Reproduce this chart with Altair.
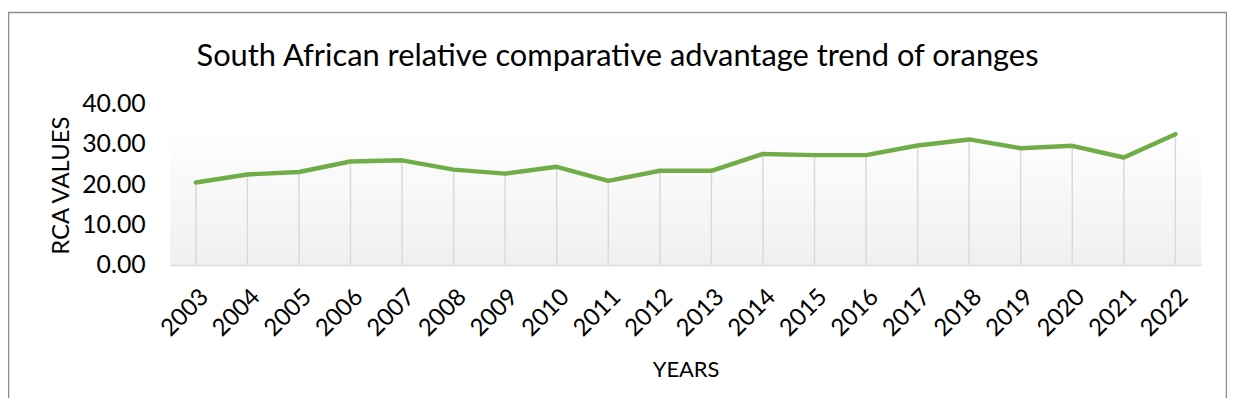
import altair as alt
import pandas as pd

title_text = "South African relative comparative advantage trend of oranges"
years = [str(y) for y in range(2003, 2023)]
rca = [20.4, 22.4, 23.0, 25.6, 25.9, 23.6, 22.6, 24.3, 20.8, 23.3,
       23.3, 27.5, 27.2, 27.2, 29.6, 31.1, 28.9, 29.5, 26.6, 32.4]

df = pd.DataFrame({"year": years, "rca": rca})
one = pd.DataFrame({"t": [title_text]})

W, H = 1037, 162
FONT = "Lato"

xenc = alt.X("year:N", sort=years, scale=alt.Scale(type="point", padding=0.5),
             axis=alt.Axis(title="YEARS", labelAngle=-45, labelFontSize=24, titleFontSize=22,
                           labelFont=FONT, titleFont=FONT, labelColor="#000", titleColor="#000",
                           titleFontWeight="normal", ticks=False, domain=True,
                           domainColor="#d9d9d9", domainWidth=2, labelPadding=20,
                           titleY=106, titleBaseline="middle", grid=False))
yscale = alt.Scale(domain=[0, 40], nice=False)
yenc = alt.Y("rca:Q", scale=yscale,
             axis=alt.Axis(title="RCA VALUES", values=[0, 10, 20, 30, 40], format=".2f",
                           labelFontSize=25, titleFontSize=24, labelFont=FONT, titleFont=FONT,
                           labelColor="#000", titleColor="#000", titleFontWeight="normal",
                           ticks=False, domain=False, grid=False, labelPadding=25,
                           titleX=-109, titleY=82, titleAlign="center", titleBaseline="middle"))

bg = alt.Chart(one).mark_rect(
    color=alt.LinearGradient(gradient="linear", x1=0, y1=0, x2=0, y2=1,
                             stops=[alt.GradientStop(color="#ffffff", offset=0),
                                    alt.GradientStop(color="#f0f0f0", offset=1)])
).encode(x=alt.value(0), x2=alt.value(W), y=alt.datum(34.8, scale=yscale), y2=alt.datum(0))

border = alt.Chart(one).mark_rect(fill=None, stroke="#8c8c8c", strokeWidth=1.5, clip=False).encode(
    x=alt.value(-162.5), x2=alt.value(1062.5), y=alt.value(-91.5), y2=alt.value(330))

title = alt.Chart(one).mark_text(
    font=FONT, fontSize=31, fontWeight="normal", color="#000", align="center", baseline="alphabetic"
).encode(text="t:N", x=alt.value(450), y=alt.value(-38))

drops = alt.Chart(df).mark_rule(color="#d9d9d9", strokeWidth=1.5).encode(
    x=xenc, y=yenc, y2=alt.datum(0))

line = alt.Chart(df).mark_line(color="#70ad47", strokeWidth=4.5, strokeJoin="round", strokeCap="round").encode(
    x=xenc, y=yenc)

chart = alt.layer(border, bg, drops, line, title).properties(
    width=W, height=H,
    autosize=alt.AutoSizeParams(type="none"),
    padding={"left": 163, "top": 95, "right": 26, "bottom": 133},
).configure_view(stroke=None)

chart.save("out.html", embed_options={"renderer": "svg", "actions": False})
